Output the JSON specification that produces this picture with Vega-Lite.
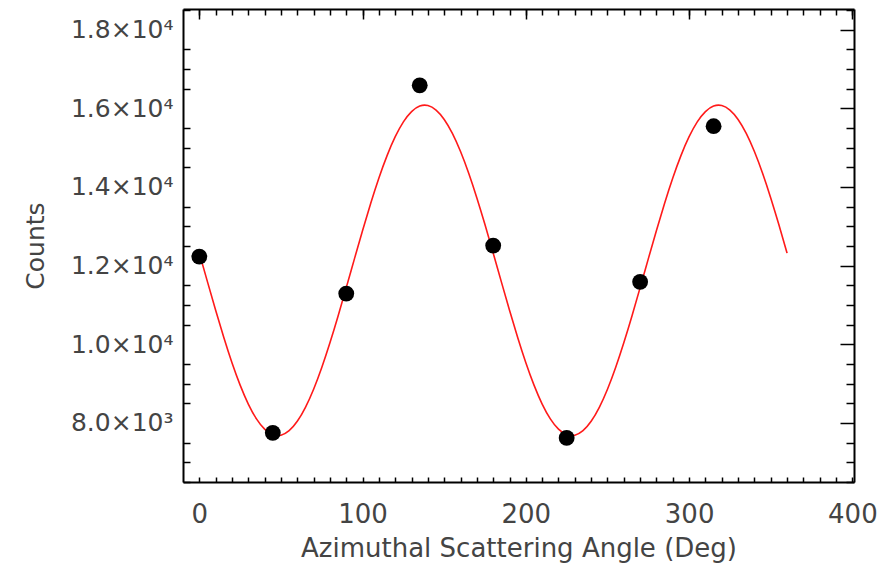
{
  "$schema": "https://vega.github.io/schema/vega-lite/v6.json",
  "width": 671,
  "height": 473,
  "autosize": "none",
  "padding": {"left": 183, "top": 9, "right": 37, "bottom": 86},
  "background": "white",
  "config": {
    "view": {"stroke": null},
    "axis": {
      "labelFont": "DejaVu Sans",
      "titleFont": "DejaVu Sans",
      "labelColor": "#444",
      "titleColor": "#444",
      "labelFontSize": 25,
      "titleFontSize": 25,
      "titleFontWeight": "normal",
      "domainColor": "black",
      "domainWidth": 2,
      "tickColor": "black",
      "tickWidth": 1.5,
      "grid": false
    }
  },
  "datasets": {
    "points": [
      {"angle": 0, "counts": 12230},
      {"angle": 45, "counts": 7750},
      {"angle": 90, "counts": 11290},
      {"angle": 135, "counts": 16585},
      {"angle": 180, "counts": 12510},
      {"angle": 225, "counts": 7620},
      {"angle": 270, "counts": 11590},
      {"angle": 315, "counts": 15545}
    ],
    "fit": [
      {"angle": 0, "counts": 12319}, {"angle": 5, "counts": 11587}, {"angle": 10, "counts": 10864}, {"angle": 15, "counts": 10172},
      {"angle": 20, "counts": 9531}, {"angle": 25, "counts": 8962}, {"angle": 30, "counts": 8482}, {"angle": 35, "counts": 8105},
      {"angle": 40, "counts": 7843}, {"angle": 45, "counts": 7703}, {"angle": 50, "counts": 7690}, {"angle": 55, "counts": 7805},
      {"angle": 60, "counts": 8043}, {"angle": 65, "counts": 8398}, {"angle": 70, "counts": 8859}, {"angle": 75, "counts": 9411},
      {"angle": 80, "counts": 10039}, {"angle": 85, "counts": 10722}, {"angle": 90, "counts": 11441}, {"angle": 95, "counts": 12173},
      {"angle": 100, "counts": 12896}, {"angle": 105, "counts": 13588}, {"angle": 110, "counts": 14229}, {"angle": 115, "counts": 14798},
      {"angle": 120, "counts": 15278}, {"angle": 125, "counts": 15655}, {"angle": 130, "counts": 15917}, {"angle": 135, "counts": 16057},
      {"angle": 140, "counts": 16070}, {"angle": 145, "counts": 15955}, {"angle": 150, "counts": 15717}, {"angle": 155, "counts": 15362},
      {"angle": 160, "counts": 14901}, {"angle": 165, "counts": 14349}, {"angle": 170, "counts": 13721}, {"angle": 175, "counts": 13038},
      {"angle": 180, "counts": 12319}, {"angle": 185, "counts": 11587}, {"angle": 190, "counts": 10864}, {"angle": 195, "counts": 10172},
      {"angle": 200, "counts": 9531}, {"angle": 205, "counts": 8962}, {"angle": 210, "counts": 8482}, {"angle": 215, "counts": 8105},
      {"angle": 220, "counts": 7843}, {"angle": 225, "counts": 7703}, {"angle": 230, "counts": 7690}, {"angle": 235, "counts": 7805},
      {"angle": 240, "counts": 8043}, {"angle": 245, "counts": 8398}, {"angle": 250, "counts": 8859}, {"angle": 255, "counts": 9411},
      {"angle": 260, "counts": 10039}, {"angle": 265, "counts": 10722}, {"angle": 270, "counts": 11441}, {"angle": 275, "counts": 12173},
      {"angle": 280, "counts": 12896}, {"angle": 285, "counts": 13588}, {"angle": 290, "counts": 14229}, {"angle": 295, "counts": 14798},
      {"angle": 300, "counts": 15278}, {"angle": 305, "counts": 15655}, {"angle": 310, "counts": 15917}, {"angle": 315, "counts": 16057},
      {"angle": 320, "counts": 16070}, {"angle": 325, "counts": 15955}, {"angle": 330, "counts": 15717}, {"angle": 335, "counts": 15362},
      {"angle": 340, "counts": 14901}, {"angle": 345, "counts": 14349}, {"angle": 350, "counts": 13721}, {"angle": 355, "counts": 13038},
      {"angle": 360, "counts": 12319}
    ]
  },
  "resolve": {"axis": {"x": "independent", "y": "independent"}},
  "layer": [
    {
      "data": {"name": "fit"},
      "mark": {"type": "line", "color": "#ff1a1a", "strokeWidth": 1.6, "interpolate": "natural"},
      "encoding": {
        "x": {
          "field": "angle", "type": "quantitative",
          "scale": {"domain": [-10, 401], "nice": false, "zero": false},
          "axis": {"orient": "bottom", "values": [0, 100, 200, 300, 400], "ticks": false, "labelPadding": 19, "labelFontSize": 26,
                   "title": "Azimuthal Scattering Angle (Deg)", "titleFontSize": 26, "titlePadding": 8, "labelFlush": false}
        },
        "y": {
          "field": "counts", "type": "quantitative",
          "scale": {"domain": [6500, 18525], "nice": false, "zero": false},
          "axis": {"orient": "left", "values": [8000, 10000, 12000, 14000, 16000, 18000], "ticks": false, "labelPadding": 10,
                   "labelExpr": "datum.value >= 10000 ? format(datum.value / 10000, '.1f') + '×10⁴' : format(datum.value / 1000, '.1f') + '×10³'",
                   "title": "Counts", "titlePadding": 22, "labelFlush": false}
        }
      }
    },
    {
      "data": {"name": "points"},
      "mark": {"type": "point", "filled": true, "color": "black", "opacity": 1, "size": 250},
      "encoding": {
        "x": {
          "field": "angle", "type": "quantitative",
          "scale": {"domain": [-10, 401], "nice": false, "zero": false},
          "axis": {"orient": "top", "values": [0, 100, 200, 300, 400], "labels": false, "tickSize": -10, "title": null}
        },
        "y": {
          "field": "counts", "type": "quantitative",
          "scale": {"domain": [6500, 18525], "nice": false, "zero": false},
          "axis": {"orient": "right", "values": [8000, 10000, 12000, 14000, 16000, 18000], "labels": false, "tickSize": -14, "title": null}
        }
      }
    },
    {
      "data": {"name": "points"},
      "mark": {"type": "point", "opacity": 0},
      "encoding": {
        "x": {
          "field": "angle", "type": "quantitative",
          "scale": {"domain": [-10, 401], "nice": false, "zero": false},
          "axis": {"orient": "bottom", "values": [0, 10, 20, 30, 40, 50, 60, 70, 80, 90, 100, 110, 120, 130, 140, 150, 160, 170, 180, 190, 200, 210, 220, 230, 240, 250, 260, 270, 280, 290, 300, 310, 320, 330, 340, 350, 360, 370, 380, 390, 400],
                   "labels": false, "domain": false, "tickSize": -5, "title": null}
        },
        "y": {
          "field": "counts", "type": "quantitative",
          "scale": {"domain": [6500, 18525], "nice": false, "zero": false},
          "axis": {"orient": "left", "values": [6500, 7000, 7500, 8500, 9000, 9500, 10500, 11000, 11500, 12500, 13000, 13500, 14500, 15000, 15500, 16500, 17000, 17500, 18500],
                   "labels": false, "domain": false, "tickSize": -7, "title": null}
        }
      }
    },
    {
      "data": {"name": "points"},
      "mark": {"type": "point", "opacity": 0},
      "encoding": {
        "x": {
          "field": "angle", "type": "quantitative",
          "scale": {"domain": [-10, 401], "nice": false, "zero": false},
          "axis": {"orient": "top", "values": [0, 10, 20, 30, 40, 50, 60, 70, 80, 90, 100, 110, 120, 130, 140, 150, 160, 170, 180, 190, 200, 210, 220, 230, 240, 250, 260, 270, 280, 290, 300, 310, 320, 330, 340, 350, 360, 370, 380, 390, 400],
                   "labels": false, "domain": false, "tickSize": -6, "title": null}
        },
        "y": {
          "field": "counts", "type": "quantitative",
          "scale": {"domain": [6500, 18525], "nice": false, "zero": false},
          "axis": {"orient": "right", "values": [6500, 7000, 7500, 8500, 9000, 9500, 10500, 11000, 11500, 12500, 13000, 13500, 14500, 15000, 15500, 16500, 17000, 17500, 18500],
                   "labels": false, "domain": false, "tickSize": -8, "title": null}
        }
      }
    }
  ]
}
